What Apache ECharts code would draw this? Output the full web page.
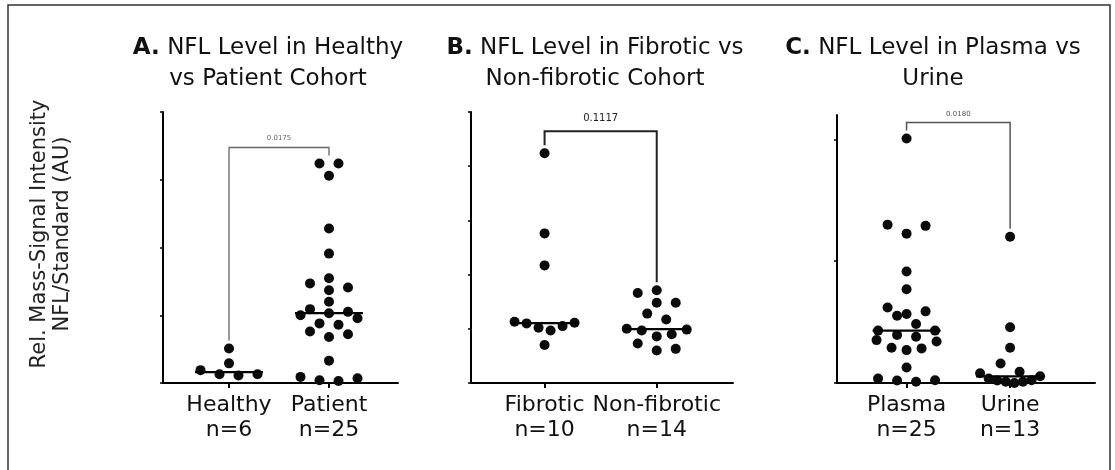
<!DOCTYPE html>
<html>
<head>
<meta charset="utf-8">
<script src="https://cdn.jsdelivr.net/npm/echarts@6/dist/echarts.min.js"></script>
<style>
  html, body { margin: 0; padding: 0; background: #fff; }
  #chart { width: 1115px; height: 470px; }
</style>
</head>
<body>
<div id="chart"></div>
<script>
// NFL relative mass-signal intensity (NFL / standard, AU) per sample
const healthy     = [0.51, 0.29, 0.19, 0.13, 0.11, 0.13];
const patient     = [3.24, 3.24, 3.06, 2.28, 1.91, 1.545, 1.47, 1.41, 1.37, 1.20, 1.09, 1.05, 1.03,
                     1.00, 0.955, 0.88, 0.86, 0.76, 0.72, 0.68, 0.33, 0.09, 0.07, 0.04, 0.03];
const fibrotic    = [4.24, 2.76, 2.17, 1.13, 1.11, 1.10, 1.05, 1.02, 0.97, 0.70];
const nonFibrotic = [1.71, 1.66, 1.48, 1.48, 1.28, 1.17, 1.00, 0.985, 0.97, 0.90, 0.86, 0.73, 0.63, 0.60];
const plasma      = [2.007, 1.30, 1.29, 1.226, 0.915, 0.77, 0.62, 0.588, 0.567, 0.552, 0.484, 0.43, 0.43,
                     0.395, 0.38, 0.352, 0.34, 0.29, 0.284, 0.27, 0.127, 0.036, 0.022, 0.02, 0.01];
const urine       = [1.20, 0.457, 0.29, 0.16, 0.093, 0.08, 0.055, 0.036, 0.022, 0.02, 0.01, 0.01, 0.0];

const panelTitles = [
  ['A.', 'NFL Level in Healthy', 'vs Patient Cohort'],
  ['B.', 'NFL Level in Fibrotic vs', 'Non-fibrotic Cohort'],
  ['C.', 'NFL Level in Plasma vs', 'Urine']
];
const groupNames = [['Healthy', 'Patient'], ['Fibrotic', 'Non-fibrotic'], ['Plasma', 'Urine']];
const groupData  = [[healthy, patient], [fibrotic, nonFibrotic], [plasma, urine]];
const pValues    = ['0.0175', '0.1117', '0.0180'];
const yMax       = [4, 5, 2.2];
const yTickVals  = [[0, 1, 2, 3, 4], [0, 1, 2, 3, 4, 5], [0, 1, 2]];
const yLabelLines = ['Rel. Mass-Signal Intensity', 'NFL/Standard (AU)'];

// ---- layout / style ----
const FONT = '"DejaVu Sans", Verdana, sans-serif';
const DOT_R = 5;
const MEDIAN_HALF = 34;
const panels = [
  { grid: { left: 163, top: 112, width: 235, height: 271 }, xMin: 0.34,  xMax: 2.69, titleX: 268,
    bracketGap: 16, pGap: 6, pFont: 7,  pColor: '#666', bColor: '#666', bWidth: 1.3 },
  { grid: { left: 471, top: 112, width: 262, height: 271 }, xMin: 0.344, xMax: 2.68, titleX: 595,
    bracketGap: 22, pGap: 8, pFont: 10, pColor: '#222', bColor: '#222', bWidth: 2 },
  { grid: { left: 837, top: 115, width: 258, height: 268 }, xMin: 0.328, xMax: 2.82, titleX: 933,
    bracketGap: 16, pGap: 5, pFont: 7,  pColor: '#555', bColor: '#555', bWidth: 1.5 }
];

function median(arr) {
  const s = arr.slice().sort((a, b) => a - b);
  const m = Math.floor(s.length / 2);
  return s.length % 2 ? s[m] : (s[m - 1] + s[m]) / 2;
}

// Scatter-dot layout: values that fall within one dot-height form a row,
// and each row is spread symmetrically around the group centre.
function swarmOffsets(values, pxPerUnit) {
  const ROW = 10, STEP = 19, SPAN = 60;
  const order = values.map((v, i) => i).sort((a, b) => values[a] - values[b]);
  const rows = [];
  order.forEach(i => {
    const y = values[i] * pxPerUnit;
    const r = rows[rows.length - 1];
    if (r && y - r.start <= ROW) r.items.push(i);
    else rows.push({ start: y, items: [i] });
  });
  const off = new Array(values.length);
  rows.forEach(r => {
    const n = r.items.length;
    const step = n > 1 ? Math.min(STEP, SPAN / (n - 1)) : 0;
    const slots = [];
    for (let k = 0; k < n; k++) slots.push((k - (n - 1) / 2) * step);
    slots.sort((a, b) => Math.abs(a) - Math.abs(b) || b - a);
    r.items.forEach((idx, j) => { off[idx] = slots[j]; });
  });
  return off;
}

const grids = [], xAxes = [], yAxes = [], series = [];

panels.forEach((pn, pi) => {
  grids.push(Object.assign({}, pn.grid));
  const names = groupNames[pi];
  const data = groupData[pi];

  xAxes.push({
    type: 'value', gridIndex: pi, min: pn.xMin, max: pn.xMax,
    splitLine: { show: false },
    axisLine: { show: true, onZero: false, lineStyle: { color: '#000', width: 2 } },
    axisTick: { show: true, customValues: [1, 2], length: 5, lineStyle: { color: '#000', width: 2 } },
    axisLabel: {
      show: true, customValues: [1, 2], margin: 10,
      formatter: v => {
        const k = Math.round(v) - 1;
        return names[k] + '\nn=' + data[k].length;
      },
      fontFamily: FONT, fontSize: 22, lineHeight: 25, color: '#111', align: 'center'
    }
  });

  yAxes.push({
    type: 'value', gridIndex: pi, min: 0, max: yMax[pi], interval: 1,
    splitLine: { show: false },
    axisLine: { show: true, onZero: false, lineStyle: { color: '#000', width: 2 } },
    axisTick: { show: true, customValues: yTickVals[pi], length: 3, lineStyle: { color: '#000', width: 1.5 } },
    axisLabel: { show: false }
  });

  const pxPerUnit = pn.grid.height / yMax[pi];

  // dots
  data.forEach((vals, gi) => {
    const off = swarmOffsets(vals, pxPerUnit);
    series.push({
      type: 'custom', xAxisIndex: pi, yAxisIndex: pi, z: 3,
      data: vals.map((v, i) => [gi + 1, v, off[i]]),
      renderItem: (params, api) => {
        const p = api.coord([api.value(0), api.value(1)]);
        return { type: 'circle', shape: { cx: p[0] + api.value(2), cy: p[1], r: DOT_R },
                 style: { fill: '#0b0b0b' } };
      }
    });
  });

  // median lines
  series.push({
    type: 'custom', xAxisIndex: pi, yAxisIndex: pi, z: 4,
    data: data.map((vals, gi) => [gi + 1, median(vals)]),
    renderItem: (params, api) => {
      const p = api.coord([api.value(0), api.value(1)]);
      return { type: 'line', shape: { x1: p[0] - MEDIAN_HALF, y1: p[1], x2: p[0] + MEDIAN_HALF, y2: p[1] },
               style: { stroke: '#000', lineWidth: 2.2 } };
    }
  });

  // significance bracket with p-value
  series.push({
    type: 'custom', xAxisIndex: pi, yAxisIndex: pi, z: 4,
    data: [[1, Math.max.apply(null, data[0]), 2, Math.max.apply(null, data[1])]],
    renderItem: (params, api) => {
      const a = api.coord([api.value(0), api.value(1)]);
      const b = api.coord([api.value(2), api.value(3)]);
      const top = Math.min(a[1], b[1]) - pn.bracketGap;
      const legGap = DOT_R + 3;
      return {
        type: 'group',
        children: [
          { type: 'polyline',
            shape: { points: [[a[0], a[1] - legGap], [a[0], top], [b[0], top], [b[0], b[1] - legGap]] },
            style: { stroke: pn.bColor, lineWidth: pn.bWidth, fill: null } },
          { type: 'text',
            style: { text: pValues[pi], x: (a[0] + b[0]) / 2, y: top - pn.pGap,
                     align: 'center', verticalAlign: 'bottom',
                     fontFamily: FONT, fontSize: pn.pFont, fill: pn.pColor } }
        ]
      };
    }
  });
});

// titles, y-axis caption and outer frame
const graphics = [
  { type: 'rect', shape: { x: 8, y: 5, width: 1102, height: 520 },
    style: { fill: null, stroke: '#333', lineWidth: 1.5 }, silent: true },
  { type: 'text', x: 51, y: 234, rotation: Math.PI / 2,
    style: { text: yLabelLines.join('\n'), align: 'center', verticalAlign: 'middle',
             fontFamily: FONT, fontSize: 21, lineHeight: 23, fill: '#222' } }
];
panels.forEach((pn, pi) => {
  const t = panelTitles[pi];
  graphics.push({
    type: 'text', x: pn.titleX, y: 33,
    style: {
      text: '{b|' + t[0] + '} ' + t[1] + '\n' + t[2],
      align: 'center', verticalAlign: 'top',
      fontFamily: FONT, fontSize: 23, lineHeight: 31, fill: '#111',
      rich: { b: { fontFamily: FONT, fontSize: 23, fontWeight: 'bold', fill: '#111' } }
    }
  });
});

const chart = echarts.init(document.getElementById('chart'), null, { renderer: 'canvas' });
chart.setOption({
  animation: false,
  backgroundColor: '#fff',
  grid: grids,
  xAxis: xAxes,
  yAxis: yAxes,
  series: series,
  graphic: graphics
});
</script>
</body>
</html>
